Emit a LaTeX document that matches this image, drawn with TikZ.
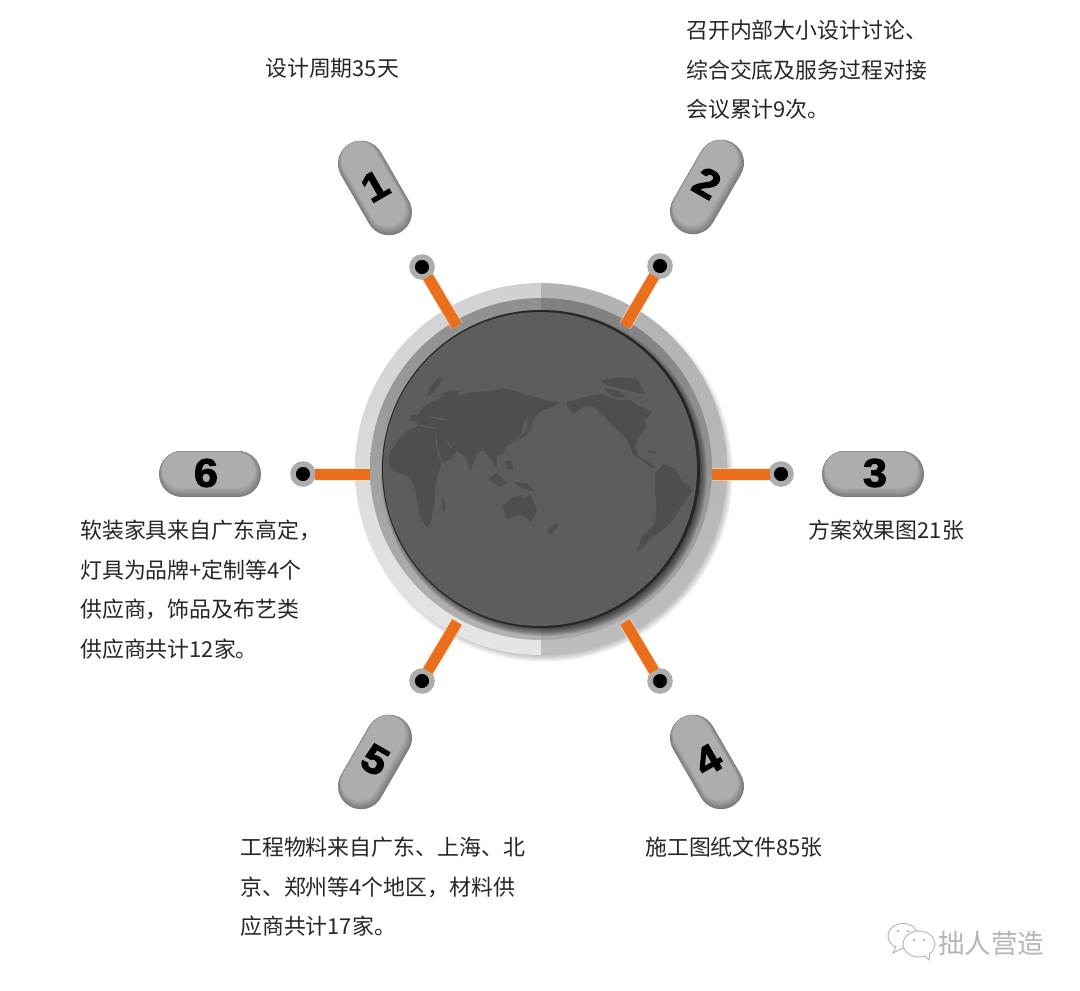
\documentclass[tikz,border=0pt]{standalone}
\usepackage{fontspec}
\setmainfont{Noto Sans CJK SC}
\newfontfamily\cjk{Noto Sans CJK SC}
\newfontfamily\numfont[FakeBold=2.5,FakeStretch=1.08]{Liberation Sans Bold}
\usetikzlibrary{calc}
\definecolor{pilldark}{HTML}{7C7C7C}
\definecolor{pilllight}{HTML}{ADADAD}
\definecolor{barorange}{HTML}{EA6F1C}
\definecolor{barglow}{HTML}{FBD9BC}
\definecolor{discgray}{HTML}{5D5D5D}
\definecolor{landgray}{HTML}{4E4E4E}
\definecolor{seagray}{HTML}{666666}
\definecolor{textgray}{HTML}{262626}
\definecolor{markgray}{HTML}{B5B5B5}
\tikzset{
  x=1pt,y=-1pt,
  caption/.style={anchor=north west,align=left,inner sep=0pt,text=textgray,
    font={\cjk\fontsize{21.9}{39.5}\selectfont}},
  digit/.style={inner sep=0pt,text=black,font={\numfont\fontsize{40}{40}\selectfont}},
  dotnode/.style={circle,fill=black,draw=pilllight,line width=5.5pt,minimum size=20pt,inner sep=0pt,outer sep=1.5pt},
  barline/.style={draw=barorange,line width=11pt},
  barhalo/.style={draw=barglow,line width=13pt,opacity=0.6},
  land/.style={fill=landgray,rounded corners=0.8pt},
  sea/.style={draw=seagray,line width=0.8pt},
  wmline/.style={draw=markgray,line width=0.9pt,fill=white}
}
\newcommand{\pillshape}[5]{% name,x,y,angle,digit-rotation
  \foreach \k [evaluate=\k as \p using \k*12.5, evaluate=\k as \w using 46-1.2*\k] in {0,...,8}
    \draw[line cap=round,line width=\w pt,color=pilllight!\p!pilldark,
      shift={(#2-0.2*\k,#3-0.5*\k)},rotate=#4] (-28,0) -- (28,0);
}
\begin{document}
\begin{tikzpicture}
\useasboundingbox (0,0) rectangle (1080,991);
\fill[white] (0,0) rectangle (1080,991);

% soft shadow of the dial
\foreach \r in {0,...,7}
  \fill[black,opacity=0.035] (544,473) circle[radius=182pt+\r*1pt];

% outer ring, two halves
\begin{scope}
  \clip (541,270) rectangle (340,670);
  \shade[top color=white!82!black,bottom color=white!90!black] (541,469) circle[radius=186pt];
  \shade[top color=black!44!white,bottom color=black!30!white] (541,469) circle[radius=171pt];
\end{scope}
\begin{scope}
  \clip (541,270) rectangle (740,670);
  \shade[top color=white!70!black,bottom color=white!74!black] (541,469) circle[radius=186pt];
  \shade[top color=black!50!white,bottom color=black!34!white] (541,469) circle[radius=171pt];
\end{scope}

% shadow of the disc on the inner ring
\foreach \r in {0,...,7}
  \fill[black,opacity=0.09] (544,473) circle[radius=156pt+\r*1pt];

% disc
\fill[black!85] (541,469) circle[radius=159pt];
\fill[discgray] (540,469) circle[radius=157pt];

% world map (coordinates of a 3x crop)
\begin{scope}[shift={(340,260)},scale=0.3333]
  % Africa and Eurasia
  \fill[land] (145,600) -- (150,575) -- (175,540) -- (205,510) -- (238,498) -- (225,482) -- (208,482)
    -- (215,465) -- (235,465) -- (250,440) -- (275,425) -- (300,415) -- (320,400) -- (345,395)
    -- (360,405) -- (400,395) -- (440,395) -- (490,385) -- (530,395) -- (580,410) -- (620,420)
    -- (660,428) -- (640,440) -- (610,450) -- (585,470) -- (575,500) -- (560,490) -- (565,470)
    -- (550,490) -- (545,520) -- (520,545) -- (500,560) -- (490,580) -- (470,590) -- (472,625)
    -- (450,595) -- (430,570) -- (410,580) -- (392,632) -- (375,590) -- (350,570) -- (335,595)
    -- (305,610) -- (295,640) -- (285,680) -- (285,720) -- (272,790) -- (260,802) -- (240,770)
    -- (230,720) -- (225,680) -- (205,650) -- (170,635) -- (150,625) -- cycle;
  % Scandinavia and arctic islands
  \fill[land] (258,410) -- (272,380) -- (292,355) -- (312,352) -- (292,382) -- (272,405) -- cycle;
  \fill[land] (300,405) -- (330,392) -- (370,392) -- (340,402) -- cycle;
  % South-east Asia
  \fill[land] (445,655) -- (470,640) -- (500,668) -- (478,682) -- cycle;
  \fill[land] (495,600) -- (515,605) -- (520,630) -- (500,625) -- cycle;
  \fill[land] (520,665) -- (560,670) -- (585,695) -- (545,685) -- cycle;
  % Japan
  \fill[land] (530,542) -- (558,512) -- (572,480) -- (576,508) -- (552,532) -- cycle;
  % Madagascar
  \fill[land] (304,720) -- (312,712) -- (317,750) -- (308,757) -- cycle;
  % Australia
  \fill[land] (488,738) -- (510,716) -- (540,705) -- (555,718) -- (570,700) -- (592,750)
    -- (575,787) -- (555,770) -- (530,765) -- (500,777) -- cycle;
  % New Zealand
  \fill[land] (620,812) -- (650,788) -- (656,800) -- (630,822) -- cycle;
  % North America
  \fill[land] (680,425) -- (720,415) -- (760,405) -- (790,402) -- (830,420) -- (870,420) -- (900,440)
    -- (937,455) -- (915,480) -- (920,505) -- (900,525) -- (885,560) -- (895,590) -- (925,605)
    -- (950,622) -- (935,625) -- (905,600) -- (880,585) -- (860,535) -- (820,500) -- (790,465)
    -- (760,440) -- (730,440) -- (700,462) -- (682,442) -- cycle;
  % Greenland and arctic islands
  \fill[land] (780,362) -- (830,352) -- (890,355) -- (917,402) -- (880,395) -- (840,385) -- (800,375) -- cycle;
  \fill[land] (790,385) -- (830,390) -- (860,412) -- (820,410) -- cycle;
  \fill[land] (920,570) -- (950,574) -- (945,582) -- (925,578) -- cycle;
  % South America
  \fill[land] (945,640) -- (970,612) -- (1005,625) -- (1025,660) -- (1057,690) -- (1030,730) -- (1005,770)
    -- (980,800) -- (940,830) -- (900,870) -- (890,877) -- (905,830) -- (945,790) -- (950,740) -- (945,690) -- cycle;
  % inland seas
  \draw[sea] (288,525) -- (292,570) -- (305,605);
  \draw[sea] (322,545) -- (335,565);
  \draw[sea] (240,497) -- (290,505);
  \draw[sea] (268,470) -- (320,480);
\end{scope}

% named ends of the links on the dial
\coordinate (ring1) at (457,326);
\coordinate (ring2) at (625,326);
\coordinate (ring3) at (712,474);
\coordinate (ring4) at (625,622);
\coordinate (ring5) at (457,622);
\coordinate (ring6) at (370,474);

% end dots
\node[dotnode] (dot1) at (422,267) {};
\node[dotnode] (dot2) at (660,266) {};
\node[dotnode] (dot3) at (781,474) {};
\node[dotnode] (dot4) at (660,681) {};
\node[dotnode] (dot5) at (422,681) {};
\node[dotnode] (dot6) at (303,474) {};

% links
\foreach \i in {1,...,6} {
  \path[barhalo] (dot\i) -- (ring\i);
}
\foreach \i in {1,...,6} {
  \path[barline] (dot\i) -- (ring\i);
}

% number pills
\pillshape{1}{375}{188}{-60}{30}
\pillshape{2}{707}{187}{60}{-30}
\pillshape{3}{873}{474}{0}{0}
\pillshape{4}{707}{762}{-60}{30}
\pillshape{5}{375}{762}{60}{-30}
\pillshape{6}{210}{474}{0}{0}
\node[digit,rotate=30] (pill1) at (375,186) {1};
\node[digit,rotate=-30] (pill2) at (707,183) {2};
\node[digit] (pill3) at (875,473) {3};
\node[digit,rotate=30] (pill4) at (708,760) {4};
\node[digit,rotate=-30] (pill5) at (375,760) {5};
\node[digit] (pill6) at (206,473) {6};

% captions
\node[caption] (text1) at (265,58) {设计周期35天};
\node[caption] (text2) at (686,20) {召开内部大小设计讨论、\\综合交底及服务过程对接\\会议累计9次。};
\node[caption] (text3) at (808,520) {方案效果图21张};
\node[caption] (text4) at (645,837) {施工图纸文件85张};
\node[caption] (text5) at (240,837) {工程物料来自广东、上海、北\\京、郑州等4个地区\symbol{"FF0C}材料供\\应商共计17家。};
\node[caption] (text6) at (80,520) {软装家具来自广东高定\symbol{"FF0C}\\灯具为品牌+定制等4个\\供应商\symbol{"FF0C}饰品及布艺类\\供应商共计12家。};

% watermark
\draw[wmline] (903,936) ellipse[x radius=15pt,y radius=12.5pt];
\draw[wmline] (896,946) -- (893,953) -- (903,948);
\draw[wmline] (919,944) ellipse[x radius=16pt,y radius=13pt];
\draw[wmline] (925,956) -- (929,960) -- (930,952);
\fill[markgray] (898,931) circle[radius=1.3pt] (908,931) circle[radius=1.3pt]
  (914,940) circle[radius=1.3pt] (924,940) circle[radius=1.3pt];
\node[inner sep=0pt,anchor=west,text=markgray,font={\cjk\fontsize{26.5}{30}\selectfont}] (mark) at (938,943) {拙人营造};
\end{tikzpicture}
\end{document}
